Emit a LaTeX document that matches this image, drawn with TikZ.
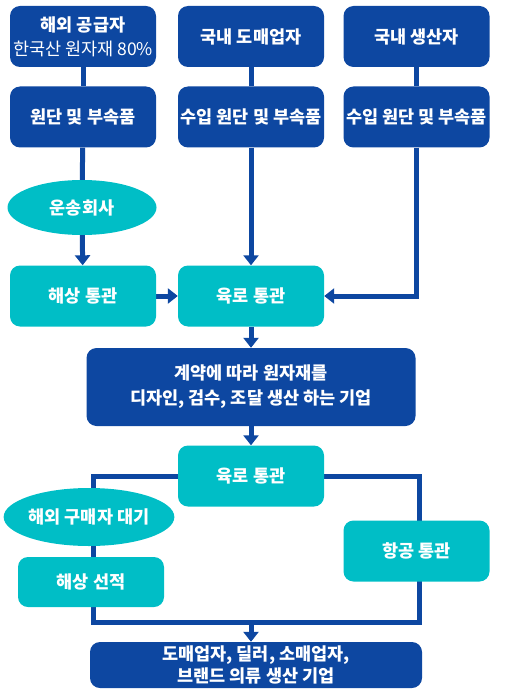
\documentclass[tikz,border=0pt]{standalone}
\usepackage{fontspec}
\setmainfont{Noto Sans CJK KR}
\usepackage{xcolor}
\usepackage{tikz}
\usetikzlibrary{shapes.geometric, arrows.meta, positioning, backgrounds}
\definecolor{flowblue}{RGB}{13,71,161}
\definecolor{flowteal}{RGB}{0,190,198}
\newcommand{\flowfont}{\fontsize{17.5}{24}\selectfont}
\tikzset{
  bluebox/.style={fill=flowblue, draw=none, rounded corners=10pt, text=white,
    font=\flowfont\bfseries, align=center, minimum width=146pt,
    minimum height=61pt, inner sep=1pt},
  tealbox/.style={bluebox, fill=flowteal},
  tealoval/.style={ellipse, fill=flowteal, draw=none, text=white,
    font=\flowfont\bfseries, minimum width=149pt, minimum height=55pt,
    inner sep=0pt},
  link/.style={draw=flowblue, line width=5pt},
  flow/.style={link, -{Triangle[width=15pt, length=10pt]}}
}

\begin{document}
\begin{tikzpicture}[x=1pt, y=-1pt]
  \useasboundingbox (0,0) rectangle (506,695);
  \node[bluebox] (abroad) at (83,36.5) {해외 공급자\\{\mdseries 한국산 원자재 80\%}};
  \node[bluebox] (wholesale) at (251,36.5) {국내 도매업자};
  \node[bluebox] (producer) at (416.5,36.5) {국내 생산자};
  \node[bluebox] (fabricA) at (83,117) {원단 및 부속품};
  \node[bluebox] (fabricB) at (251,117) {수입 원단 및 부속품};
  \node[bluebox] (fabricC) at (416.5,117) {수입 원단 및 부속품};
  \node[tealoval] (shipper) at (82,207.5) {운송회사};
  \node[tealbox] (seacustoms) at (83,296) {해상 통관};
  \node[tealbox] (landcustomsA) at (251,296) {육로 통관};
  \node[bluebox, minimum width=329pt, minimum height=78pt] (maker) at (251,387)
    {계약에 따라 원자재를\\[1pt]디자인, 검수, 조달 생산 하는 기업};
  \node[tealbox] (landcustomsB) at (251,476) {육로 통관};
  \node[tealoval, minimum width=150pt, minimum height=58pt] (buyer) at (89,517) {해외 구매자 대기};
  \node[tealbox, minimum height=50pt] (seaship) at (91,582) {해상 선적};
  \node[tealbox] (aircustoms) at (416.5,551) {항공 통관};
  \node[bluebox, minimum width=332pt, minimum height=46pt] (dealer) at (256,665)
    {도매업자, 딜러, 소매업자,\\[-2pt]브랜드 의류 생산 기업};
  \coordinate (loopL) at (93,622);
  \coordinate (loopR) at (419,622);
  \coordinate (merge) at (251,622);
  \begin{scope}[on background layer]
    \draw[link] (abroad) -- (fabricA);
    \draw[link] (fabricA) -- (shipper);
    \draw[flow] (shipper) -- (seacustoms);
    \draw[link] (wholesale) -- (fabricB);
    \draw[flow] (fabricB) -- (landcustomsA);
    \draw[link] (producer) -- (fabricC);
    \draw[flow] (fabricC.south) |- (landcustomsA.east);
    \draw[flow] (seacustoms) -- (landcustomsA);
    \draw[flow] (landcustomsA) -- (maker);
    \draw[flow] (maker) -- (landcustomsB);
    \draw[link] (landcustomsB.west) -| (loopL) -- (loopR) |- (landcustomsB.east);
    \draw[flow] (merge) -- (merge |- dealer.north);
  \end{scope}
\end{tikzpicture}
\end{document}
